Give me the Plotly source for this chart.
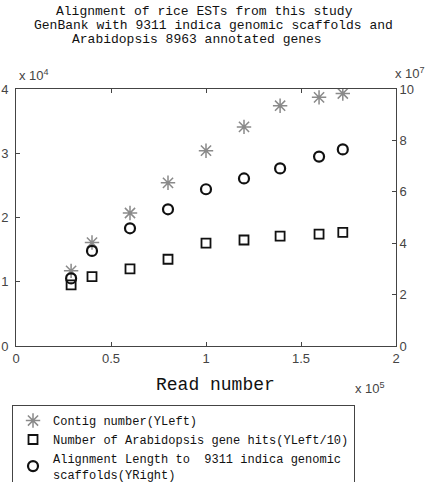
import plotly.graph_objects as go

# Data (read number in units of 1e5)
read_number = [0.29, 0.40, 0.60, 0.80, 1.00, 1.20, 1.39, 1.595, 1.72]
contig_number = [1.17, 1.61, 2.07, 2.54, 3.04, 3.41, 3.74, 3.87, 3.93]      # x1e4, left axis
arab_hits = [0.95, 1.08, 1.20, 1.35, 1.60, 1.65, 1.71, 1.74, 1.77]         # x1e4 (YLeft/10)
align_length = [2.63, 3.70, 4.58, 5.32, 6.10, 6.52, 6.91, 7.37, 7.65]      # x1e7, right axis

x_ticks = [0, 0.5, 1, 1.5, 2]
x_tick_labels = ["0", "0.5", "1", "1.5", "2"]
yl_ticks = [0, 1, 2, 3, 4]
yr_ticks = [0, 2, 4, 6, 8, 10]

title_lines = [
    "Alignment of rice ESTs from this study",
    "GenBank with 9311 indica genomic scaffolds and",
    "Arabidopsis 8963 annotated genes",
]
legend_names = [
    "Contig number(YLeft)",
    "Number of Arabidopsis gene hits(YLeft/10)",
    "Alignment Length to  9311 indica genomic<br>scaffolds(YRight)",
]

MONO = "Liberation Mono"
SANS = "Liberation Sans"

fig = go.Figure()
fig.add_trace(go.Scatter(
    x=read_number, y=contig_number, mode="markers", name=legend_names[0],
    marker=dict(symbol="asterisk-open", size=12, color="#8a8a8a",
                line=dict(color="#8a8a8a", width=1.5)),
))
fig.add_trace(go.Scatter(
    x=read_number, y=arab_hits, mode="markers", name=legend_names[1],
    marker=dict(symbol="square-open", size=9, color="#111",
                line=dict(color="#111", width=1.8)),
))
fig.add_trace(go.Scatter(
    x=read_number, y=align_length, mode="markers", name=legend_names[2],
    yaxis="y2",
    marker=dict(symbol="circle-open", size=10, color="#111",
                line=dict(color="#111", width=2.2)),
))

tickfont = dict(family=SANS, size=13, color="#444")
fig.update_layout(
    width=437, height=482,
    margin=dict(l=16, r=41, t=89, b=136, autoexpand=False),
    paper_bgcolor="white", plot_bgcolor="white",
    showlegend=True,
    xaxis=dict(range=[0, 2], tickvals=x_ticks, ticktext=x_tick_labels,
               ticks="inside", ticklen=4, tickcolor="#444",
               showline=True, linecolor="#444", linewidth=1, mirror="ticks",
               showgrid=False, zeroline=False, tickfont=tickfont),
    yaxis=dict(range=[0, 4], tickvals=yl_ticks, ticks="inside", ticklen=4,
               tickcolor="#444", showline=True, linecolor="#444", linewidth=1,
               mirror=True, showgrid=False, zeroline=False, tickfont=tickfont,
               ticklabelstandoff=4),
    yaxis2=dict(range=[0, 10], tickvals=yr_ticks, overlaying="y", side="right",
                ticks="inside", ticklen=4, tickcolor="#444", showline=True,
                linecolor="#444", linewidth=1, showgrid=False, zeroline=False,
                tickfont=tickfont),
    legend=dict(x=-0.0105, y=-0.2296, xanchor="left", yanchor="top",
                bordercolor="#444", borderwidth=1, bgcolor="white",
                font=dict(family=MONO, size=12, color="#111"),
                itemwidth=30, tracegroupgap=0),
)

title_x = [0.497, 0.521, 0.476]
title_y = [1.300, 1.2457, 1.191]
for t, xx, yy in zip(title_lines, title_x, title_y):
    fig.add_annotation(text=t, xref="paper", yref="paper", x=xx, y=yy,
                       showarrow=False, font=dict(family=MONO, size=13, color="#111"),
                       xanchor="center", yanchor="middle")

fig.add_annotation(text="Read number", xref="paper", yref="paper", x=0.524, y=-0.152,
                   showarrow=False, font=dict(family=MONO, size=18, color="#111"),
                   xanchor="center", yanchor="middle")
fig.add_annotation(text="x 10<sup>4</sup>", xref="paper", yref="paper", x=0.003, y=1.054,
                   showarrow=False, font=tickfont, xanchor="left", yanchor="middle")
fig.add_annotation(text="x 10<sup>7</sup>", xref="paper", yref="paper", x=0.992, y=1.062,
                   showarrow=False, font=tickfont, xanchor="left", yanchor="middle")
fig.add_annotation(text="x 10<sup>5</sup>", xref="paper", yref="paper", x=0.887, y=-0.163,
                   showarrow=False, font=tickfont, xanchor="left", yanchor="middle")

fig.write_html("out.html")
